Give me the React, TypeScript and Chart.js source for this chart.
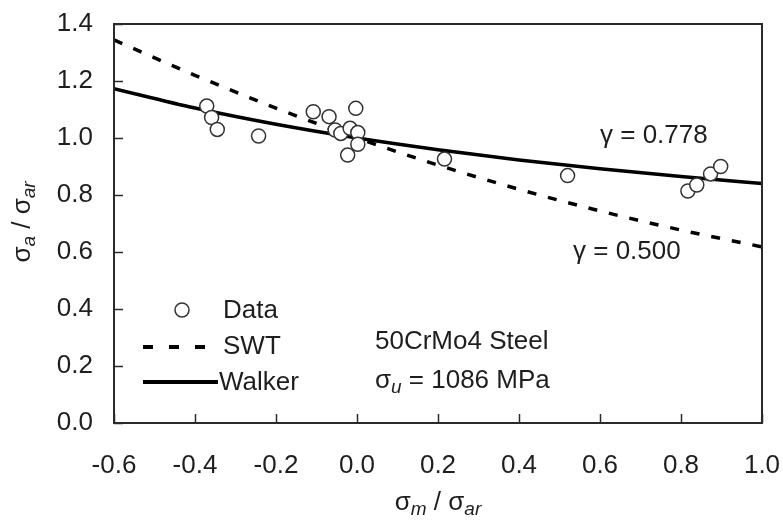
import React, { useEffect, useRef } from "react";
import { Chart, registerables } from "chart.js";

Chart.register(...registerables);

// Measured data (σm/σar, σa/σar)
const dataX = [-0.371, -0.359, -0.345, -0.243, -0.108, -0.069, -0.054, -0.040, -0.023, -0.017, -0.003, 0.002, 0.002, 0.216, 0.520, 0.817, 0.839, 0.873, 0.898];
const dataY = [1.112, 1.072, 1.030, 1.007, 1.092, 1.075, 1.028, 1.016, 0.940, 1.034, 1.104, 1.019, 0.978, 0.926, 0.868, 0.814, 0.835, 0.874, 0.900];

// Model curves
const curveX = [-0.6, -0.4, -0.2, 0.0, 0.2, 0.4, 0.6, 0.8, 1.0];
const swtY = [1.344, 1.220, 1.105, 1.0, 0.905, 0.820, 0.744, 0.677, 0.618];
const walkerY = [1.173, 1.105, 1.048, 1.0, 0.959, 0.923, 0.892, 0.865, 0.840];

const xTicks = [-0.6, -0.4, -0.2, 0.0, 0.2, 0.4, 0.6, 0.8, 1.0];
const yTicks = [0.0, 0.2, 0.4, 0.6, 0.8, 1.0, 1.2, 1.4];

const FONT = '"Liberation Sans", Arial, Helvetica, sans-serif';
const MAIN = 26;
const SUB = 19;
const TEXT = "#1e1e1e";

type Part = { t: string; sub?: boolean };

function drawRich(ctx: CanvasRenderingContext2D, parts: Part[], x: number, y: number, align: "left" | "center") {
  let w = 0;
  const items = parts.map((p) => {
    const f = p.sub ? `italic ${SUB}px ${FONT}` : `${MAIN}px ${FONT}`;
    ctx.font = f;
    const m = ctx.measureText(p.t).width;
    w += m;
    return { ...p, f, m };
  });
  let cx = align === "center" ? x - w / 2 : x;
  ctx.textBaseline = "middle";
  ctx.textAlign = "left";
  for (const it of items) {
    ctx.font = it.f;
    ctx.fillText(it.t, cx, y + (it.sub ? 7 : 0));
    cx += it.m;
  }
}

const decorPlugin = {
  id: "decor",
  afterDraw(chart: any) {
    const ctx: CanvasRenderingContext2D = chart.ctx;
    const a = chart.chartArea;
    const xs = chart.scales.x;
    const ys = chart.scales.y;
    ctx.save();
    // frame
    ctx.strokeStyle = "#2a2a2a";
    ctx.lineWidth = 2;
    ctx.setLineDash([]);
    ctx.strokeRect(a.left, a.top, a.right - a.left, a.bottom - a.top);
    // inward ticks
    ctx.lineWidth = 1.5;
    for (const v of xTicks) {
      const px = Math.round(xs.getPixelForValue(v)) + 0.5;
      ctx.beginPath();
      ctx.moveTo(px, a.bottom);
      ctx.lineTo(px, a.bottom - 9);
      ctx.stroke();
    }
    for (const v of yTicks) {
      const py = Math.round(ys.getPixelForValue(v)) + 0.5;
      ctx.beginPath();
      ctx.moveTo(a.left, py);
      ctx.lineTo(a.left + 9, py);
      ctx.stroke();
    }

    ctx.fillStyle = TEXT;
    // x title
    drawRich(ctx, [{ t: "σ" }, { t: "m", sub: true }, { t: " / σ" }, { t: "ar", sub: true }], (a.left + a.right) / 2, 503, "center");
    // y title
    ctx.save();
    ctx.translate(27, 222);
    ctx.rotate(-Math.PI / 2);
    drawRich(ctx, [{ t: "σ" }, { t: "a", sub: true }, { t: " / σ" }, { t: "ar", sub: true }], 0, -4, "center");
    ctx.restore();

    // annotations
    drawRich(ctx, [{ t: "γ = 0.778" }], 600, 136, "left");
    drawRich(ctx, [{ t: "γ = 0.500" }], 573, 252, "left");
    drawRich(ctx, [{ t: "50CrMo4 Steel" }], 375, 342, "left");
    drawRich(ctx, [{ t: "σ" }, { t: "u", sub: true }, { t: " = 1086 MPa" }], 375, 381, "left");

    // legend
    ctx.strokeStyle = "#333";
    ctx.lineWidth = 1.5;
    ctx.fillStyle = "#fff";
    ctx.beginPath();
    ctx.arc(182, 310, 7, 0, Math.PI * 2);
    ctx.fill();
    ctx.stroke();
    ctx.fillStyle = TEXT;
    drawRich(ctx, [{ t: "Data" }], 223, 311, "left");

    ctx.strokeStyle = "#000";
    ctx.lineWidth = 4;
    ctx.setLineDash([10, 16]);
    ctx.beginPath();
    ctx.moveTo(143, 347);
    ctx.lineTo(207, 347);
    ctx.stroke();
    drawRich(ctx, [{ t: "SWT" }], 223, 347, "left");

    ctx.setLineDash([]);
    ctx.lineWidth = 4;
    ctx.beginPath();
    ctx.moveTo(143, 382);
    ctx.lineTo(218, 382);
    ctx.stroke();
    drawRich(ctx, [{ t: "Walker" }], 219, 383, "left");
    ctx.restore();
  },
};

function zeroPad(s: any) {
  s.paddingLeft = 0;
  s.paddingRight = 0;
  s.paddingTop = 0;
  s.paddingBottom = 0;
}

export default function App() {
  const ref = useRef<HTMLCanvasElement | null>(null);
  useEffect(() => {
    document.body.style.margin = "0";
    const canvas = ref.current;
    if (!canvas) return;
    const pts = dataX.map((x, i) => ({ x, y: dataY[i] }));
    const swt = curveX.map((x, i) => ({ x, y: swtY[i] }));
    const walker = curveX.map((x, i) => ({ x, y: walkerY[i] }));
    const chart = new Chart(canvas, {
      type: "scatter",
      data: {
        datasets: [
          {
            label: "Data",
            data: pts,
            pointRadius: 7,
            pointBorderWidth: 1.5,
            pointBorderColor: "#333",
            pointBackgroundColor: "#ffffff",
            showLine: false,
            order: 0,
          },
          {
            label: "SWT",
            data: swt,
            showLine: true,
            borderColor: "#000",
            borderWidth: 3.5,
            borderDash: [9, 12],
            pointRadius: 0,
            cubicInterpolationMode: "monotone",
            order: 1,
          },
          {
            label: "Walker",
            data: walker,
            showLine: true,
            borderColor: "#000",
            borderWidth: 3.5,
            pointRadius: 0,
            cubicInterpolationMode: "monotone",
            order: 2,
          },
        ],
      },
      options: {
        responsive: false,
        animation: false,
        layout: { padding: { left: 0, top: 24, right: 21, bottom: 0 } },
        plugins: { legend: { display: false }, tooltip: { enabled: false } },
        scales: {
          x: {
            type: "linear",
            min: -0.6,
            max: 1.0,
            afterBuildTicks: (s: any) => {
              s.ticks = xTicks.map((v) => ({ value: v }));
            },
            afterFit: (s: any) => {
              s.height = 98;
              zeroPad(s);
            },
            grid: { display: false, drawTicks: false },
            border: { display: false },
            ticks: {
              padding: 27,
              color: TEXT,
              font: { family: FONT, size: MAIN },
              maxRotation: 0,
              callback: (v: any) => Number(v).toFixed(1),
            },
          },
          y: {
            type: "linear",
            min: 0,
            max: 1.4,
            afterBuildTicks: (s: any) => {
              s.ticks = yTicks.map((v) => ({ value: v }));
            },
            afterFit: (s: any) => {
              s.width = 114;
              zeroPad(s);
            },
            grid: { display: false, drawTicks: false },
            border: { display: false },
            ticks: {
              padding: 21,
              color: TEXT,
              font: { family: FONT, size: MAIN },
              callback: (v: any) => Number(v).toFixed(1),
            },
          },
        },
      },
      plugins: [decorPlugin],
    });
    return () => chart.destroy();
  }, []);
  return (
    <div style={{ position: "absolute", left: 0, top: 0, width: 783, height: 521, background: "#fff" }}>
      <canvas ref={ref} width={783} height={521} />
    </div>
  );
}
